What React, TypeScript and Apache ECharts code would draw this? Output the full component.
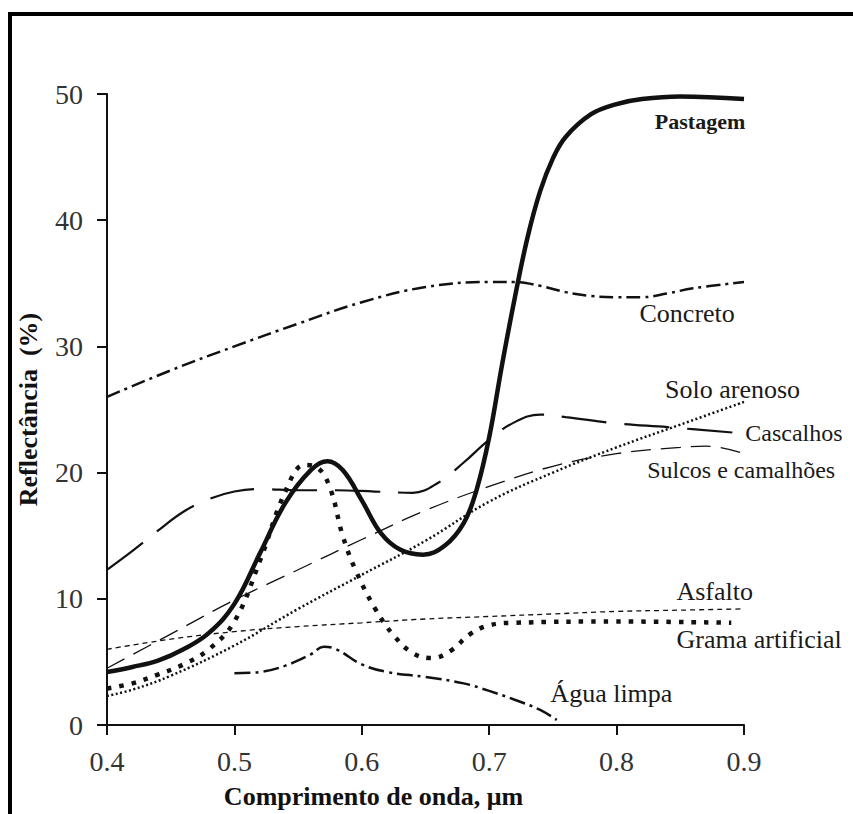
import React, { useEffect, useRef } from "react";
import * as echarts from "echarts";

// Wavelength (µm) and reflectance (%) per surface
const pastagemX = [0.40, 0.42, 0.44, 0.46, 0.48, 0.50, 0.52, 0.54, 0.56, 0.573, 0.585, 0.60, 0.615, 0.63, 0.648, 0.665, 0.68, 0.69, 0.70, 0.71, 0.72, 0.73, 0.74, 0.75, 0.76, 0.78, 0.80, 0.82, 0.85, 0.90];
const pastagemY = [4.2, 4.6, 5.1, 6.0, 7.3, 9.6, 13.6, 17.6, 20.2, 20.9, 20.2, 17.8, 15.2, 13.9, 13.5, 14.2, 16.0, 18.6, 22.8, 28.5, 33.8, 38.6, 42.3, 44.9, 46.6, 48.4, 49.2, 49.6, 49.8, 49.6];

const concretoX = [0.40, 0.45, 0.50, 0.55, 0.60, 0.65, 0.70, 0.72, 0.74, 0.76, 0.78, 0.80, 0.82, 0.84, 0.86, 0.90];
const concretoY = [26.0, 28.1, 30.0, 31.8, 33.5, 34.7, 35.1, 35.1, 34.8, 34.3, 34.0, 33.9, 33.9, 34.2, 34.6, 35.1];

const cascalhosX = [0.40, 0.42, 0.44, 0.46, 0.48, 0.50, 0.52, 0.55, 0.58, 0.61, 0.64, 0.66, 0.68, 0.70, 0.72, 0.74, 0.76, 0.80, 0.84, 0.90];
const cascalhosY = [12.3, 13.8, 15.4, 16.9, 17.9, 18.5, 18.7, 18.6, 18.6, 18.5, 18.4, 19.2, 20.8, 22.6, 24.0, 24.6, 24.4, 23.9, 23.6, 23.1];

const sulcosX = [0.40, 0.45, 0.50, 0.55, 0.60, 0.65, 0.70, 0.75, 0.80, 0.85, 0.87, 0.90];
const sulcosY = [4.5, 7.2, 9.9, 12.3, 14.7, 17.0, 18.9, 20.5, 21.5, 22.0, 22.1, 21.5];

const soloX = [0.40, 0.42, 0.45, 0.50, 0.55, 0.60, 0.65, 0.70, 0.75, 0.80, 0.85, 0.90];
const soloY = [2.3, 2.8, 3.9, 6.3, 9.2, 11.9, 14.6, 17.7, 20.0, 22.0, 23.8, 25.6];

const gramaX = [0.40, 0.42, 0.44, 0.46, 0.48, 0.50, 0.52, 0.54, 0.555, 0.565, 0.575, 0.585, 0.595, 0.61, 0.625, 0.64, 0.655, 0.67, 0.685, 0.70, 0.72, 0.80, 0.89];
const gramaY = [2.9, 3.3, 4.0, 4.8, 6.0, 8.2, 13.0, 18.5, 20.6, 20.4, 18.8, 15.0, 12.3, 9.3, 7.1, 5.7, 5.3, 5.9, 7.2, 7.9, 8.1, 8.2, 8.1];

const asfaltoX = [0.40, 0.45, 0.50, 0.55, 0.60, 0.65, 0.70, 0.75, 0.80, 0.85, 0.90];
const asfaltoY = [6.0, 6.8, 7.4, 7.8, 8.1, 8.4, 8.6, 8.8, 9.0, 9.1, 9.2];

const aguaX = [0.50, 0.52, 0.54, 0.56, 0.57, 0.58, 0.60, 0.62, 0.65, 0.68, 0.70, 0.72, 0.74, 0.753];
const aguaY = [4.1, 4.2, 4.7, 5.6, 6.2, 6.0, 4.8, 4.2, 3.8, 3.3, 2.7, 2.0, 1.2, 0.4];

// Curve labels (left edge, vertical centre in data units)
const labelTexts = ["Pastagem", "Concreto", "Solo arenoso", "Cascalhos", "Sulcos e camalhões", "Asfalto", "Grama artificial", "Água limpa"];
const labelX = [0.830, 0.818, 0.838, 0.901, 0.824, 0.847, 0.847, 0.748];
const labelY = [47.85, 32.6, 26.6, 23.1, 20.2, 10.6, 6.8, 2.5];
const labelBold = [true, false, false, false, false, false, false, false];
const labelSize = [22, 26, 26, 24, 24, 26, 26, 26];

const xAxisName = "Comprimento de onda, μm";
const yAxisName = "Reflectância  (%)";

const SERIF = "Liberation Serif";

function pairs(xs: number[], ys: number[]) {
  return xs.map((x, i) => [x, ys[i]]);
}

export default function App() {
  const ref = useRef<HTMLDivElement>(null);
  useEffect(() => {
    const chart = echarts.init(ref.current!, null, { renderer: "svg" });
    const mk = (name: string, xs: number[], ys: number[], width: number, dash: any, z = 2) => ({
      type: "line",
      name,
      data: pairs(xs, ys),
      showSymbol: false,
      symbol: "none",
      smooth: 0.4,
      silent: true,
      z,
      lineStyle: { color: "#111", width, type: dash, cap: "butt" },
    });
    chart.setOption({
      animation: false,
      backgroundColor: "#fff",
      textStyle: { fontFamily: SERIF },
      grid: { left: 107, right: 109, top: 94, bottom: 85, containLabel: false },
      xAxis: {
        type: "value",
        min: 0.4,
        max: 0.9,
        interval: 0.1,
        name: xAxisName,
        nameLocation: "middle",
        nameGap: 58,
        nameTextStyle: { fontFamily: SERIF, fontSize: 26, fontWeight: "bold", color: "#111", padding: [0, 104, 0, 0] },
        axisLine: { lineStyle: { color: "#111", width: 2 } },
        axisTick: { length: 10, lineStyle: { color: "#111", width: 2 } },
        axisLabel: { fontFamily: SERIF, fontSize: 28, color: "#333", margin: 22, formatter: (v: number) => v.toFixed(1) },
        splitLine: { show: false },
      },
      yAxis: {
        type: "value",
        min: 0,
        max: 50,
        interval: 10,
        name: yAxisName,
        nameLocation: "middle",
        nameGap: 66,
        nameTextStyle: { fontFamily: SERIF, fontSize: 26, fontWeight: "bold", color: "#111" },
        axisLine: { show: true, lineStyle: { color: "#111", width: 2 } },
        axisTick: { show: true, length: 10, lineStyle: { color: "#111", width: 2 } },
        axisLabel: { fontFamily: SERIF, fontSize: 28, color: "#333", margin: 24 },
        splitLine: { show: false },
      },
      series: [
        mk("Concreto", concretoX, concretoY, 2.5, [14, 5, 3, 5]),
        mk("Cascalhos", cascalhosX, cascalhosY, 2.2, [45, 18]),
        mk("Sulcos e camalhões", sulcosX, sulcosY, 1.3, [20, 10]),
        mk("Solo arenoso", soloX, soloY, 2.5, [2, 2.5]),
        mk("Asfalto", asfaltoX, asfaltoY, 1.3, [5, 4]),
        mk("Grama artificial", gramaX, gramaY, 4.5, [4.5, 8]),
        mk("Água limpa", aguaX, aguaY, 2.5, [16, 5, 3, 5]),
        mk("Pastagem", pastagemX, pastagemY, 4.5, "solid", 5),
      ],
    });

    const texts = labelTexts.map((t, i) => {
      const p = chart.convertToPixel({ gridIndex: 0 }, [labelX[i], labelY[i]]) as number[];
      return {
        type: "text",
        x: p[0],
        y: p[1],
        silent: true,
        style: {
          text: t,
          fill: "#1a1a1a",
          fontFamily: SERIF,
          fontSize: labelSize[i],
          fontWeight: labelBold[i] ? "bold" : "normal",
          align: "left",
          verticalAlign: "middle",
        },
      };
    });

    chart.setOption({
      graphic: {
        elements: [
          {
            type: "rect",
            silent: true,
            shape: { x: 10, y: 14, width: 1000, height: 1000 },
            style: { fill: "none", stroke: "#000", lineWidth: 4 },
          },
          ...texts,
        ],
      },
    });

    return () => chart.dispose();
  }, []);

  return <div ref={ref} style={{ position: "fixed", left: 0, top: 0, width: 853, height: 814 }} />;
}
